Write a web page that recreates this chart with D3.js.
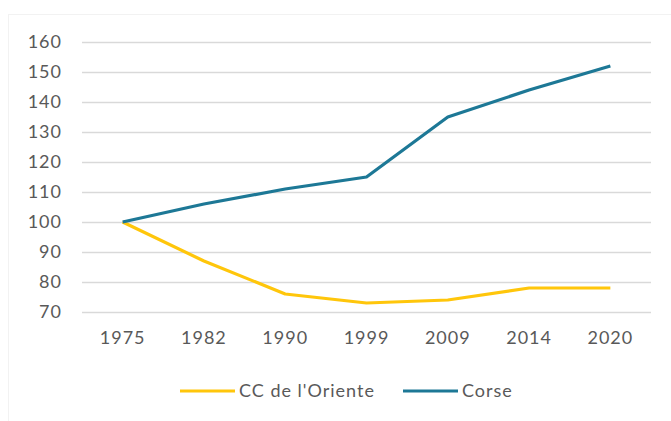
<!DOCTYPE html>
<html>
<head>
<meta charset="utf-8">
<script src="https://cdn.jsdelivr.net/npm/d3@7"></script>
<style>
  body { margin: 0; background: #fff; }
  text { font-family: Lato, "Open Sans", sans-serif; fill: #595959; letter-spacing: 1px; }
</style>
</head>
<body>
<script>
'use strict';

// chart data
const years = ["1975", "1982", "1990", "1999", "2009", "2014", "2020"];
const orienteValues = [100, 87, 76, 73, 74, 78, 78];
const corseValues = [100, 106, 111, 115, 135, 144, 152];
const yTicks = [70, 80, 90, 100, 110, 120, 130, 140, 150, 160];
const seriesNames = ["CC de l'Oriente", "Corse"];
const seriesColors = ["#FFC60B", "#1D7896"];

const svg = d3.select('body').append('svg')
  .attr('width', 671)
  .attr('height', 421);

// light outer frame
svg.append('rect')
  .attr('x', 8.5).attr('y', 14.5)
  .attr('width', 700).attr('height', 450)
  .attr('fill', 'none')
  .attr('stroke', '#e4e4e4')
  .attr('stroke-dasharray', '1,1');

const xScale = d3.scaleBand().domain(years).range([82, 651]);
const yScale = d3.scaleLinear().domain([70, 160]).range([312, 42]);

// gridlines + y labels
const yAxis = d3.axisLeft(yScale).tickValues(yTicks).tickSize(-(651 - 82)).tickPadding(20);
const gy = svg.append('g').attr('transform', 'translate(82,0)').call(yAxis);
gy.select('.domain').remove();
gy.selectAll('line').attr('stroke', '#d9d9d9').attr('stroke-width', 1.5);
gy.selectAll('text').style('font-size', '18px').attr('fill', '#595959');

// x labels
const xAxis = d3.axisBottom(xScale).tickSize(0).tickPadding(19);
const gx = svg.append('g').attr('transform', 'translate(0,312)').call(xAxis);
gx.select('.domain').remove();
gx.selectAll('text').style('font-size', '18px').attr('fill', '#595959');

// lines
const line = d3.line()
  .x((d, i) => xScale(years[i]) + xScale.bandwidth() / 2)
  .y(d => yScale(d));

[orienteValues, corseValues].forEach((vals, i) => {
  svg.append('path')
    .datum(vals)
    .attr('fill', 'none')
    .attr('stroke', seriesColors[i])
    .attr('stroke-width', 3.2)
    .attr('stroke-linejoin', 'round')
    .attr('d', line);
});

// legend
const legendX = [180, 403];
seriesNames.forEach((name, i) => {
  svg.append('line')
    .attr('x1', legendX[i]).attr('x2', legendX[i] + 55)
    .attr('y1', 391).attr('y2', 391)
    .attr('stroke', seriesColors[i])
    .attr('stroke-width', 3.2);
  svg.append('text')
    .attr('x', legendX[i] + 59)
    .attr('y', 391)
    .attr('dy', '0.35em')
    .style('font-size', '18px')
    .text(name);
});
</script>
</body>
</html>
